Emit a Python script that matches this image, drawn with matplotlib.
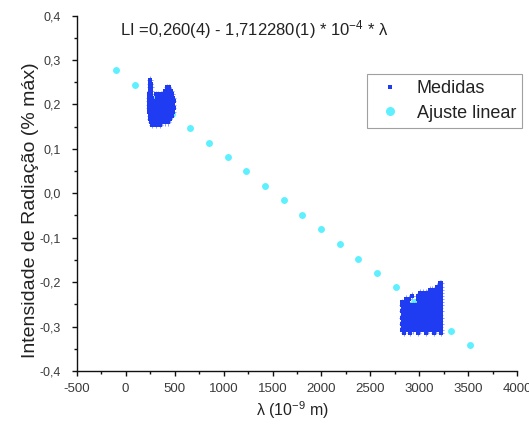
import matplotlib
matplotlib.use("Agg")
import matplotlib.pyplot as plt
from matplotlib.lines import Line2D
from matplotlib.ticker import MultipleLocator, FuncFormatter

plt.rcParams['font.family'] = ['Liberation Sans', 'DejaVu Sans']
plt.rcParams['mathtext.fontset'] = 'custom'
plt.rcParams['mathtext.rm'] = 'Liberation Sans'
plt.rcParams['mathtext.it'] = 'Liberation Sans'

# ---- Linear fit points ----
fit_x = [-99, 91, 282, 472, 662, 853, 1043, 1233, 1423, 1614,
         1804, 1994, 2185, 2375, 2565, 2756, 2946, 3136, 3326, 3517]
fit_y = [0.277, 0.244, 0.212, 0.179, 0.147, 0.114, 0.081, 0.049, 0.016, -0.016,
         -0.049, -0.081, -0.114, -0.147, -0.179, -0.212, -0.244, -0.277, -0.310, -0.342]

# ---- Measured cluster 1 (short wavelengths) : rows of (y, [x...]) ----
c1_row_a = [240, 265, 290, 315, 340, 365, 390, 415, 440, 465, 488]
c1_row_b = [238, 263, 300, 313, 338, 363, 388, 413, 438, 463, 490]
c1_rows = [
    (0.255, [250]),
    (0.247, [248, 256]),
    (0.239, [247, 257, 420, 440]),
    (0.231, [245, 258, 400, 425, 450, 465]),
    (0.223, [243, 262, 310, 335, 360, 385, 410, 435, 460, 478]),
    (0.215, [240, 265, 315, 340, 365, 390, 415, 440, 465, 485]),
    (0.207, c1_row_b),
    (0.199, c1_row_a),
    (0.191, c1_row_b),
    (0.183, [242, 267, 292, 317, 342, 367, 392, 417, 442, 467, 485]),
    (0.175, [245, 270, 295, 320, 345, 370, 395, 420, 445, 470]),
    (0.167, [248, 273, 298, 323, 348, 373, 398, 423, 450]),
    (0.160, [255, 285, 315, 345, 375, 405, 430]),
    (0.154, [270, 310, 350]),
]

# ---- Measured cluster 2 (long wavelengths) ----
c2_row_a = [2818, 2846, 2874, 2902, 2930, 2958, 2986, 3014, 3042, 3070,
            3098, 3126, 3154, 3182, 3208, 3222]
c2_row_b = [2832, 2860, 2888, 2916, 2944, 2972, 3000, 3028, 3056, 3084,
            3112, 3140, 3168, 3196, 3216]
c2_rows = [
    (-0.203, [3214, 3221]),
    (-0.210, [3176, 3198, 3214, 3222]),
    (-0.217, [3105, 3132, 3158, 3184, 3206, 3221]),
    (-0.224, [3008, 3038, 3066, 3096, 3124, 3150, 3176, 3200, 3220]),
    (-0.231, [2928, 2986, 3016, 3046, 3076, 3106, 3136, 3166, 3194, 3221]),
    (-0.238, [2868, 2896, 2984, 3014, 3044, 3074, 3104, 3134, 3164, 3194, 3222]),
    (-0.245, [2826, 2852, 2880, 2992, 3020, 3048, 3076, 3104, 3132, 3160, 3188, 3214, 3222]),
    (-0.252, c2_row_a),
    (-0.259, c2_row_b),
    (-0.266, c2_row_a),
    (-0.273, c2_row_b),
    (-0.280, c2_row_a),
    (-0.287, c2_row_b),
    (-0.294, c2_row_a),
    (-0.301, c2_row_b),
    (-0.308, [2826, 2858, 2890, 2936, 2968, 3010, 3052, 3090, 3130, 3170, 3200, 3222]),
    (-0.314, [2840, 2900, 2990, 3070, 3150, 3220]),
]

meas_x = [x for y, xs in c1_rows + c2_rows for x in xs]
meas_y = [y for y, xs in c1_rows + c2_rows for x in xs]

x_ticks = [-500, 0, 500, 1000, 1500, 2000, 2500, 3000, 3500, 4000]
y_ticks = [-0.4, -0.3, -0.2, -0.1, 0.0, 0.1, 0.2, 0.3, 0.4]

equation = r'LI =0,260(4) - 1,712280(1) * 10$^{-4}$ * λ'
xlabel = r'λ (10$^{-9}$ m)'
ylabel = 'Intensidade de Radiação (% máx)'

BLUE = '#1f3cf2'
CYAN = '#5ef0ff'

fig = plt.figure(figsize=(5.29, 4.30), dpi=100)
ax = fig.add_axes([0.145, 0.1372, 0.8329, 0.8267])

ax.plot(fit_x, fit_y, linestyle='none', marker='o', markersize=5.0,
        color=CYAN, markeredgewidth=0, zorder=2)
ax.errorbar(meas_x, meas_y, xerr=28, yerr=0.008, fmt='s', markersize=2.6,
            color=BLUE, markeredgewidth=0, ecolor='#8e99f6', elinewidth=0.7,
            capsize=1.2, capthick=0.6, zorder=3)

ax.set_xlim(-500, 4000)
ax.set_ylim(-0.4, 0.4)
ax.set_xticks(x_ticks)
ax.set_yticks(y_ticks)
ax.xaxis.set_minor_locator(MultipleLocator(250))
ax.yaxis.set_minor_locator(MultipleLocator(0.05))
ax.xaxis.set_major_formatter(FuncFormatter(lambda v, p: f'{v:.0f}'))
ax.yaxis.set_major_formatter(FuncFormatter(lambda v, p: f'{v:.1f}'.replace('.', ',').replace('-0,0', '0,0')))

for s in ['top', 'right']:
    ax.spines[s].set_visible(False)
for s in ['left', 'bottom']:
    ax.spines[s].set_linewidth(1.0)
    ax.spines[s].set_color('#111111')

ax.tick_params(axis='both', which='major', direction='out', length=3.5, width=1.0,
               color='#111111', labelcolor='#3a3a3a')
ax.tick_params(axis='both', which='minor', direction='out', length=2.2, width=1.0,
               color='#111111')
ax.tick_params(axis='x', labelsize=9.5, pad=5)
ax.tick_params(axis='y', labelsize=9, pad=8)

fig.text(120/529, 1-30/430, equation, fontsize=12, va='center', ha='left', color='#222222')
fig.text(293/529, 1-410/430, xlabel, fontsize=11.5, va='center', ha='center', color='#222222')
fig.text(31/529, 1-210/430, ylabel, fontsize=14, va='center', ha='center',
         rotation=90, color='#222222')

handles = [
    Line2D([], [], linestyle='none', marker='s', markersize=3, color=BLUE, markeredgewidth=0),
    Line2D([], [], linestyle='none', marker='o', markersize=6.5, color=CYAN, markeredgewidth=0),
]
leg = fig.legend(handles, ['Medidas', 'Ajuste linear'], loc='upper left',
                 bbox_to_anchor=(367/529, 1-74/430), bbox_transform=fig.transFigure,
                 fontsize=13, frameon=True, fancybox=False, borderaxespad=0,
                 handlelength=1.9, handletextpad=0.5, borderpad=0.35, labelspacing=0.4)
leg.get_frame().set_edgecolor('#888888')
leg.get_frame().set_linewidth(0.8)
for t in leg.get_texts():
    t.set_color('#222222')

fig.savefig('out.png', dpi=100)
